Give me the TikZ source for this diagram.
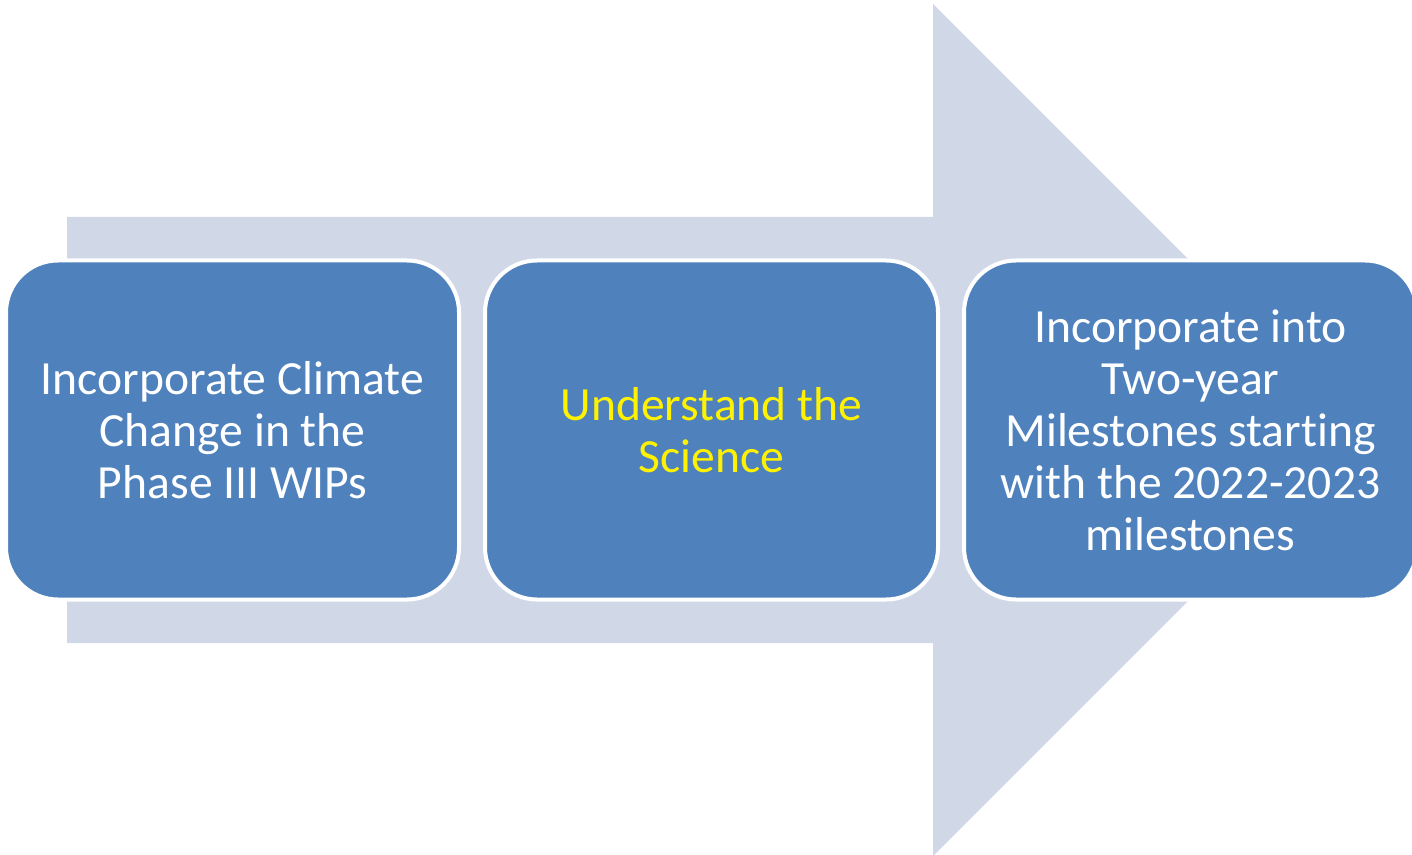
\documentclass[tikz,border=0pt]{standalone}
\usepackage{fontspec}
\setmainfont[Ligatures={NoCommon,NoContextual}]{Carlito}
\usetikzlibrary{positioning}
\definecolor{arrowgray}{HTML}{D0D8E8}
\definecolor{stepblue}{HTML}{4F81BD}

\begin{document}
\begin{tikzpicture}[x=0.5pt, y=-0.5pt, node distance=11pt,
    stepbox/.style={draw=white, line width=2pt, fill=stepblue,
        rounded corners=26pt, minimum width=226.5pt, minimum height=169.5pt,
        align=center, text=white, font=\fontsize{23.8pt}{26pt}\selectfont}]
    % 画布大小 (像素)
    \useasboundingbox (0,0) rectangle (1412,855);

    % 定义箭头:箭杆左端, 箭头根部, 箭尖, 中线
    \def\xL{67}    \def\xN{933}   \def\xT{1359}
    \def\yM{430}   \def\hS{213}   \def\hH{426}   % 半杆宽, 半头宽

    % 背景大箭头
    \fill[arrowgray] (\xL,\yM-\hS) -- (\xN,\yM-\hS) -- (\xN,\yM-\hH)
        -- (\xT,\yM) -- (\xN,\yM+\hH) -- (\xN,\yM+\hS)
        -- (\xL,\yM+\hS) -- cycle;

    % 三个步骤
    \node[stepbox] (climate) at (232.5,\yM)
        {Incorporate Climate\\Change in the\\Phase III WIPs};
    \node[stepbox, right=of climate] (science)
        {\textcolor{yellow}{Understand the}\\\textcolor{yellow}{Science}};
    \node[stepbox, right=of science] (milestones)
        {Incorporate into\\Two-year\\Milestones starting\\with the 2022-2023\\milestones};
\end{tikzpicture}
\end{document}
